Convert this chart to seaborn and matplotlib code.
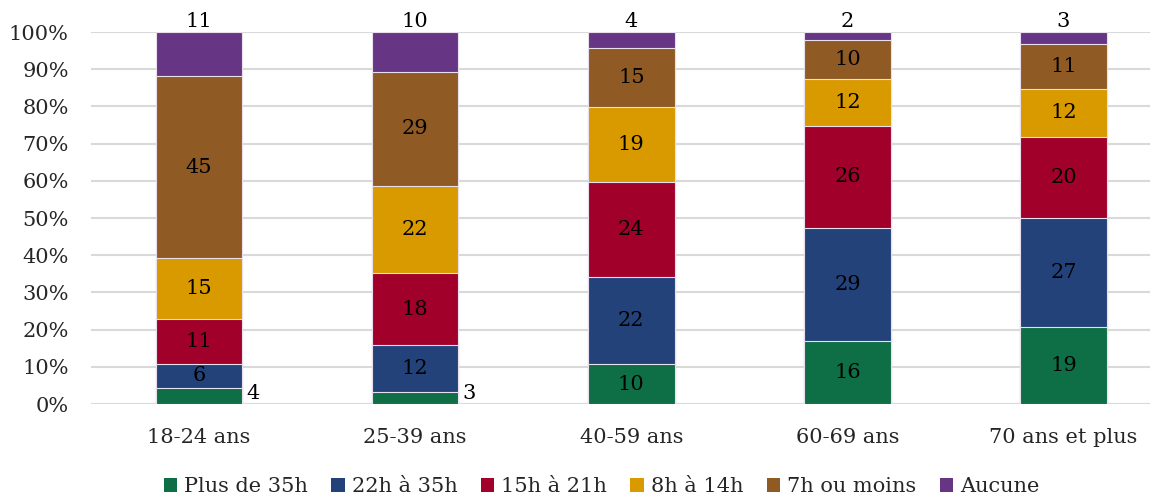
import numpy as np
import pandas as pd
import matplotlib
matplotlib.use("Agg")
import matplotlib.pyplot as plt
import seaborn as sns
from matplotlib.patches import Patch

# Age groups and weekly hours categories
groups = ["18-24 ans", "25-39 ans", "40-59 ans", "60-69 ans", "70 ans et plus"]
series = ["Plus de 35h", "22h à 35h", "15h à 21h", "8h à 14h", "7h ou moins", "Aucune"]

plus_35 = [4, 3, 10, 16, 19]
h22_35 = [6, 12, 22, 29, 27]
h15_21 = [11, 18, 24, 26, 20]
h8_14 = [15, 22, 19, 12, 12]
h7_moins = [45, 29, 15, 10, 11]
aucune = [11, 10, 4, 2, 3]

colors = ["#0E6E45", "#24427A", "#A0002A", "#D99A00", "#8F5A23", "#663584"]

sns.set_theme(style="white")
plt.rcParams["font.family"] = ["DejaVu Serif"]

values = np.array([plus_35, h22_35, h15_21, h8_14, h7_moins, aucune], dtype=float)
totals = values.sum(axis=0)
shares = values / totals * 100
cum = np.cumsum(shares, axis=0)

fig = plt.figure(figsize=(11.57, 4.97), dpi=100)
ax = fig.add_axes([91 / 1157, 1 - 404 / 497, (1150 - 91) / 1157, (404 - 32) / 497])

# Stacked bars: draw cumulative totals from the top layer down
for i in range(len(series) - 1, -1, -1):
    df = pd.DataFrame({"groupe": groups, "part": cum[i]})
    sns.barplot(data=df, x="groupe", y="part", color=colors[i], width=0.4,
                edgecolor="#E8E0EC", linewidth=0.8, saturation=1, ax=ax, zorder=3)

fs = 15
for j in range(len(groups)):
    for i in range(len(series)):
        v = values[i, j]
        lo = cum[i - 1, j] if i > 0 else 0.0
        hi = cum[i, j]
        label = f"{int(v)}"
        if i == len(series) - 1:
            ax.text(j, 100.3, label, ha="center", va="bottom", fontsize=fs,
                    color="black", zorder=5)
        elif i == 0 and hi < 6:
            ax.text(j + 0.22, 0.2, label, ha="left", va="bottom", fontsize=fs,
                    color="black", zorder=5)
        else:
            ax.text(j, (lo + hi) / 2, label, ha="center", va="center",
                    fontsize=fs, color="black", zorder=5)

ax.set_ylim(0, 100)
ax.set_xlim(-0.5, 4.4)
ax.set_yticks(np.arange(0, 101, 10))
ax.set_yticklabels([f"{t}%" for t in range(0, 101, 10)], fontsize=fs)
ax.tick_params(axis="x", labelsize=fs, pad=17, length=0)
ax.tick_params(axis="y", length=0, pad=16)
ax.set_xlabel("")
ax.set_ylabel("")
ax.yaxis.grid(True, color="#D9D9D9", linewidth=1.5, zorder=0)
ax.set_axisbelow(True)
for s in ax.spines.values():
    s.set_visible(False)

handles = [Patch(facecolor=c, edgecolor="none") for c in colors]
fig.legend(handles, series, loc="lower center", bbox_to_anchor=(0.52, -0.036),
           ncol=6, frameon=False, fontsize=fs, handlelength=0.65,
           handleheight=0.65, handletextpad=0.35, columnspacing=1.1)

fig.savefig("out.png", dpi=100)
